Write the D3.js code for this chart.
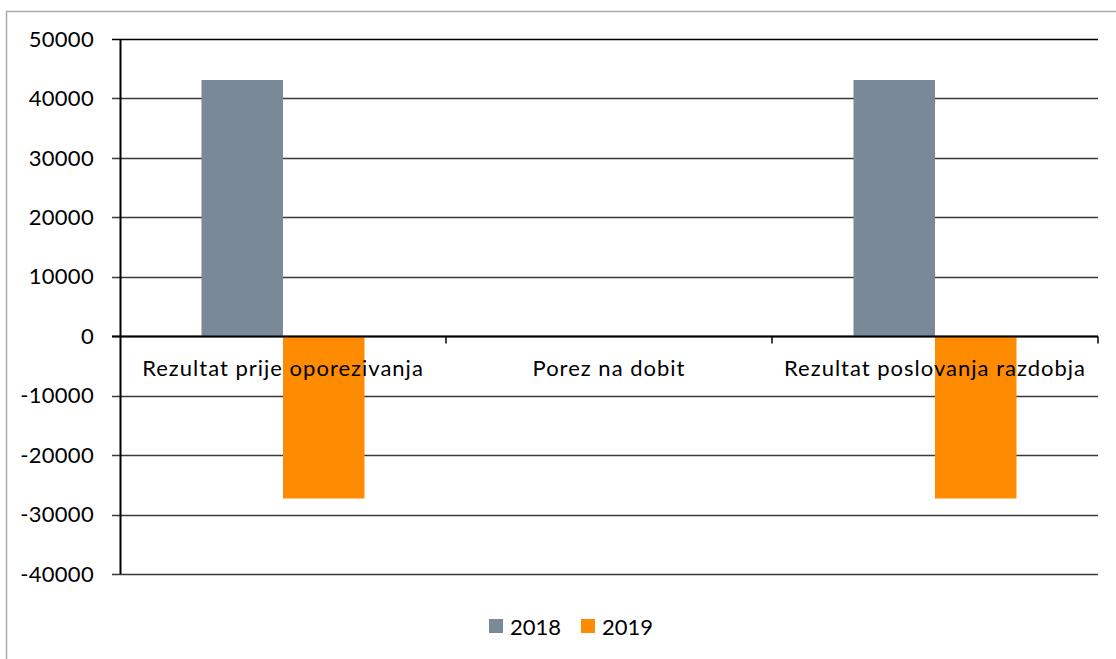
<!DOCTYPE html>
<html>
<head>
<meta charset="utf-8">
<script src="https://cdn.jsdelivr.net/npm/d3@7"></script>
<style>
  body { margin: 0; background: #fff; }
  svg text { font-family: Lato, "Open Sans", sans-serif; fill: #000; }
</style>
</head>
<body>
<div id="chart"></div>
<script>
// podaci
var kategorije = ['Rezultat prije oporezivanja', 'Porez na dobit', 'Rezultat poslovanja razdobja'];
var godine = ['2018', '2019'];
var vrijednosti2018 = [43100, 0, 43100];
var vrijednosti2019 = [-27300, 0, -27300];
var yTicks = [50000, 40000, 30000, 20000, 10000, 0, -10000, -20000, -30000, -40000];
var boje = ['#798998', '#ff8c00'];

var width = 1116, height = 659;
var margin = {top: 39, left: 120, right: 18, bottom: 85};

var svg = d3.select('#chart').append('svg')
    .attr('width', width)
    .attr('height', height);

// okvir
svg.append('rect')
    .attr('x', 6.5).attr('y', 11.5)
    .attr('width', width + 10).attr('height', height)
    .attr('fill', 'none')
    .attr('stroke', '#ababab')
    .attr('stroke-width', 1.5);

var x = d3.scaleBand()
    .domain(kategorije)
    .range([margin.left, width - margin.right]);

var xInner = d3.scaleBand()
    .domain(godine)
    .range([0, x.bandwidth()])
    .paddingOuter(1);

var y = d3.scaleLinear()
    .domain([-40000, 50000])
    .range([height - margin.bottom, margin.top]);

// mreza
var grid = svg.append('g');
grid.selectAll('line')
    .data(yTicks)
    .enter().append('line')
    .attr('x1', margin.left - 8)
    .attr('x2', width - margin.right)
    .attr('y1', d => Math.round(y(d)) + 0.5)
    .attr('y2', d => Math.round(y(d)) + 0.5)
    .attr('stroke', d => d === 50000 ? '#000' : '#3a3a3a')
    .attr('stroke-width', 1.5);

grid.selectAll('text')
    .data(yTicks)
    .enter().append('text')
    .attr('x', 94)
    .attr('y', d => y(d))
    .attr('dy', '0.35em')
    .attr('text-anchor', 'end')
    .style('font-size', '22px')
    .style('letter-spacing', '0.3px')
    .text(d => d);

// stupci
var podaci = [];
kategorije.forEach((k, i) => {
    podaci.push({kat: k, god: '2018', v: vrijednosti2018[i]});
    podaci.push({kat: k, god: '2019', v: vrijednosti2019[i]});
});

svg.append('g').selectAll('rect')
    .data(podaci.filter(d => d.v !== 0))
    .enter().append('rect')
    .attr('x', d => x(d.kat) + xInner(d.god))
    .attr('width', xInner.bandwidth())
    .attr('y', d => y(Math.max(0, d.v)))
    .attr('height', d => Math.abs(y(d.v) - y(0)))
    .attr('fill', d => boje[godine.indexOf(d.god)]);

// os x (nula)
var y0 = Math.round(y(0)) + 0.5;
svg.append('line')
    .attr('x1', margin.left - 8).attr('x2', width - margin.right)
    .attr('y1', y0).attr('y2', y0)
    .attr('stroke', '#000').attr('stroke-width', 2);

svg.append('g').selectAll('line')
    .data(kategorije)
    .enter().append('line')
    .attr('x1', d => x(d) + x.bandwidth())
    .attr('x2', d => x(d) + x.bandwidth())
    .attr('y1', y0).attr('y2', y0 + 7)
    .attr('stroke', '#000').attr('stroke-width', 1.5);

svg.append('g').selectAll('text')
    .data(kategorije)
    .enter().append('text')
    .attr('x', d => x(d) + x.bandwidth() / 2)
    .attr('y', y0 + 39)
    .attr('text-anchor', 'middle')
    .style('font-size', '22px')
    .style('letter-spacing', '1px')
    .text(d => d);

// os y
svg.append('line')
    .attr('x1', margin.left + 0.5).attr('x2', margin.left + 0.5)
    .attr('y1', y(50000)).attr('y2', y(-40000))
    .attr('stroke', '#000').attr('stroke-width', 2);

// legenda
var legenda = svg.append('g').attr('transform', 'translate(489,619)');
godine.forEach((g, i) => {
    var lg = legenda.append('g').attr('transform', 'translate(' + (i * 92) + ',0)');
    lg.append('rect').attr('width', 14).attr('height', 14).attr('fill', boje[i]);
    lg.append('text').attr('x', 21).attr('y', 16)
        .style('font-size', '22px')
        .text(g);
});
</script>
</body>
</html>
